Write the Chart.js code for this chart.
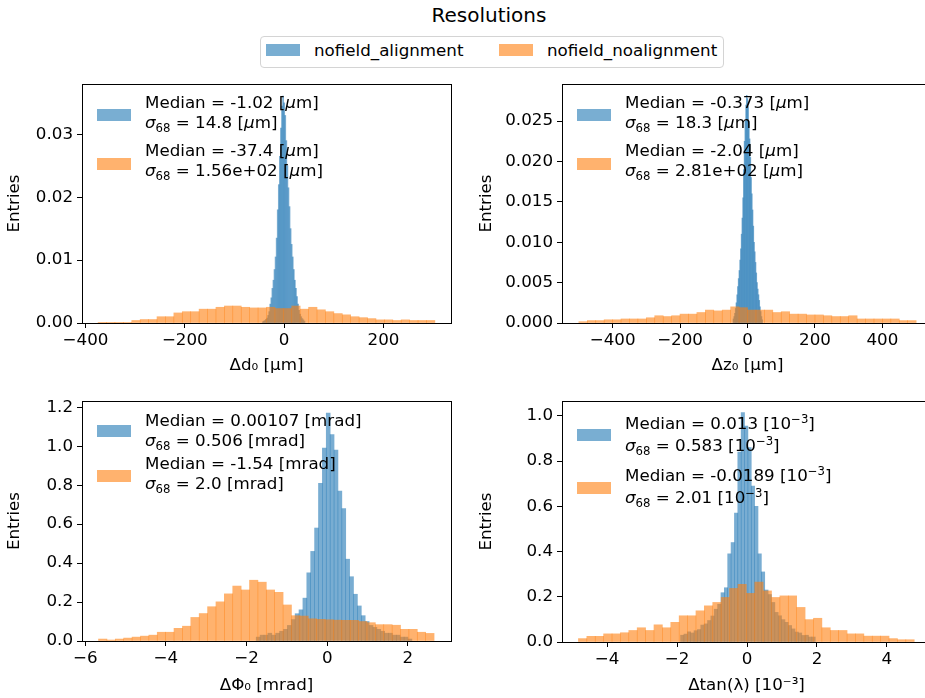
<!DOCTYPE html>
<html>
<head>
<meta charset="utf-8">
<script src="https://cdn.jsdelivr.net/npm/chart.js@4.4.1/dist/chart.umd.min.js"></script>
<style>
html, body { margin: 0; padding: 0; overflow: hidden; background: #fff; }
body { width: 925px; height: 698px; position: relative; font-family: "DejaVu Sans", sans-serif; color: #000; }
canvas { position: absolute; }
.title { position: absolute; left: 389px; width: 200px; top: 3px; text-align: center; font-size: 20px; line-height: 24px; }
.topleg { position: absolute; left: 260px; top: 36px; width: 462px; height: 30px; border: 1px solid #d4d4d4; border-radius: 4px; background: #fff; }
.lg { position: absolute; font-size: 16.7px; line-height: 20px; white-space: nowrap; }
.lg.tall { line-height: 22px; }
.hd { position: absolute; width: 34px; height: 12px; }
.blue { background: #79aed2; }
.orange { background: #ffb26e; }
sub, sup { font-size: 70%; line-height: 0; position: relative; vertical-align: baseline; }
sub { top: 0.3em; }
sup { top: -0.5em; }
</style>
</head>
<body>
<div class="title">Resolutions</div>
<div class="topleg"></div>
<div class="hd blue" style="left:266px;top:44px"></div>
<div class="lg" style="left:314px;top:40px">nofield_alignment</div>
<div class="hd orange" style="left:499px;top:44px"></div>
<div class="lg" style="left:547px;top:40px">nofield_noalignment</div>

<canvas id="cD0" width="460" height="310" style="left:0px;top:70px"></canvas>
<canvas id="cZ0" width="480" height="310" style="left:470px;top:70px"></canvas>
<canvas id="cPhi0" width="460" height="311" style="left:0px;top:387px"></canvas>
<canvas id="cTanl" width="480" height="311" style="left:470px;top:387px"></canvas>

<!-- in-panel legends -->
<div class="hd blue" style="left:97px;top:109px"></div>
<div class="lg" style="left:145px;top:92px">Median = -1.02 [<i>μ</i>m]<br><i>σ</i><sub>68</sub> = 14.8 [<i>μ</i>m]</div>
<div class="hd orange" style="left:97px;top:158px"></div>
<div class="lg" style="left:145px;top:140px">Median = -37.4 [<i>μ</i>m]<br><i>σ</i><sub>68</sub> = 1.56e+02 [<i>μ</i>m]</div>

<div class="hd blue" style="left:577px;top:109px"></div>
<div class="lg" style="left:625px;top:92px">Median = -0.373 [<i>μ</i>m]<br><i>σ</i><sub>68</sub> = 18.3 [<i>μ</i>m]</div>
<div class="hd orange" style="left:577px;top:158px"></div>
<div class="lg" style="left:625px;top:140px">Median = -2.04 [<i>μ</i>m]<br><i>σ</i><sub>68</sub> = 2.81e+02 [<i>μ</i>m]</div>

<div class="hd blue" style="left:97px;top:425px"></div>
<div class="lg" style="left:145px;top:410px">Median = 0.00107 [mrad]<br><i>σ</i><sub>68</sub> = 0.506 [mrad]</div>
<div class="hd orange" style="left:97px;top:470px"></div>
<div class="lg" style="left:145px;top:453px">Median = -1.54 [mrad]<br><i>σ</i><sub>68</sub> = 2.0 [mrad]</div>

<div class="hd blue" style="left:577px;top:429px"></div>
<div class="lg tall" style="left:625px;top:412px">Median = 0.013 [10<sup>−3</sup>]<br><i>σ</i><sub>68</sub> = 0.583 [10<sup>−3</sup>]</div>
<div class="hd orange" style="left:577px;top:482px"></div>
<div class="lg tall" style="left:625px;top:464px">Median = -0.0189 [10<sup>−3</sup>]<br><i>σ</i><sub>68</sub> = 2.01 [10<sup>−3</sup>]</div>

<script>
// histogram contents (density), 40 bins each, bin range = [first edge, last edge]
const d0AlignRange = [-44, 42];
const d0Align = [0.0002, 0.0003, 0.0004, 0.0006, 0.0008, 0.0012, 0.0018, 0.0030, 0.0040, 0.0055,
  0.0068, 0.0085, 0.0105, 0.0135, 0.0180, 0.0220, 0.0265, 0.0310, 0.0345, 0.0361,
  0.0350, 0.0330, 0.0290, 0.0250, 0.0215, 0.0185, 0.0150, 0.0125, 0.0105, 0.0085,
  0.0068, 0.0055, 0.0042, 0.0030, 0.0020, 0.0014, 0.0010, 0.0007, 0.0005, 0.0003];
const d0NoAlignRange = [-374.6, 303.5];
const d0NoAlign = [0.00003, 0.00005, 0.00005, 0.0001, 0.0004, 0.00055, 0.00055, 0.001, 0.001, 0.0016,
  0.0018, 0.0018, 0.0022, 0.0022, 0.0025, 0.0027, 0.0027, 0.0025, 0.0024, 0.0024,
  0.0025, 0.0023, 0.0023, 0.0027, 0.0022, 0.0025, 0.0021, 0.0018, 0.0015, 0.0013,
  0.001, 0.00085, 0.0007, 0.0005, 0.0005, 0.0004, 0.0005, 0.0004, 0.0004, 0.0004];

const z0AlignRange = [-43, 45];
const z0Align = [0.0005, 0.0008, 0.0012, 0.0018, 0.0025, 0.0035, 0.0045, 0.0055, 0.0065, 0.0078,
  0.0092, 0.0110, 0.0130, 0.0155, 0.0190, 0.0225, 0.0250, 0.0270, 0.0282, 0.0278,
  0.0268, 0.0250, 0.0228, 0.0205, 0.0180, 0.0160, 0.0140, 0.0120, 0.0100, 0.0088,
  0.0075, 0.0062, 0.0050, 0.0042, 0.0035, 0.0028, 0.0020, 0.0014, 0.0008, 0.0004];
const z0NoAlignRange = [-500, 500];
const z0NoAlign = [0.00016, 0.0003, 0.0003, 0.0004, 0.0004, 0.0005, 0.0005, 0.0005, 0.00065, 0.0009,
  0.0008, 0.0009, 0.0011, 0.0011, 0.0013, 0.0016, 0.0015, 0.0016, 0.0020, 0.0019,
  0.0016, 0.0016, 0.0016, 0.0013, 0.0014, 0.0011, 0.0011, 0.0010, 0.0010, 0.0009,
  0.0008, 0.0008, 0.0009, 0.0005, 0.0005, 0.0005, 0.0005, 0.0005, 0.0003, 0.0003];

const phi0AlignRange = [-1.76, 2.1];
const phi0Align = [0.02, 0.03, 0.03, 0.04, 0.03, 0.04, 0.05, 0.06, 0.08, 0.11,
  0.14, 0.16, 0.22, 0.35, 0.46, 0.58, 0.81, 0.99, 1.17, 1.06,
  0.98, 0.77, 0.68, 0.42, 0.33, 0.24, 0.18, 0.13, 0.10, 0.08,
  0.07, 0.06, 0.05, 0.04, 0.04, 0.03, 0.03, 0.02, 0.02, 0.01];
const phi0NoAlignRange = [-5.67, 2.65];
const phi0NoAlign = [0.010, 0.005, 0.010, 0.015, 0.020, 0.025, 0.030, 0.045, 0.045, 0.065,
  0.076, 0.121, 0.141, 0.176, 0.201, 0.242, 0.282, 0.262, 0.312, 0.302,
  0.262, 0.250, 0.185, 0.130, 0.128, 0.114, 0.111, 0.109, 0.107, 0.106,
  0.106, 0.100, 0.094, 0.084, 0.084, 0.081, 0.060, 0.060, 0.045, 0.039];

const tanlAlignRange = [-1.9, 1.95];
const tanlAlign = [0.030, 0.035, 0.045, 0.040, 0.050, 0.055, 0.075, 0.080, 0.095, 0.115,
  0.145, 0.167, 0.218, 0.240, 0.390, 0.440, 0.570, 0.840, 1.015, 0.955,
  0.860, 0.690, 0.600, 0.390, 0.310, 0.230, 0.210, 0.175, 0.131, 0.116,
  0.099, 0.087, 0.073, 0.058, 0.044, 0.040, 0.029, 0.030, 0.022, 0.022];
const tanlNoAlignRange = [-4.82, 4.78];
const tanlNoAlign = [0.015, 0.025, 0.025, 0.036, 0.036, 0.041, 0.051, 0.063, 0.051, 0.076,
  0.063, 0.087, 0.116, 0.116, 0.138, 0.160, 0.175, 0.197, 0.237, 0.255,
  0.215, 0.265, 0.226, 0.197, 0.204, 0.204, 0.153, 0.099, 0.105, 0.063,
  0.051, 0.051, 0.036, 0.036, 0.026, 0.026, 0.026, 0.015, 0.010, 0.010];

const seriesNames = ['nofield_alignment', 'nofield_noalignment'];

Chart.defaults.font.family = '"DejaVu Sans", sans-serif';
Chart.defaults.font.size = 16.7;
Chart.defaults.color = '#000';

const BLUE = 'rgba(31,119,180,0.6)';
const ORANGE = 'rgba(255,127,14,0.6)';

// box around the plot area, like matplotlib spines
const frame = {
  id: 'frame',
  afterDraw(chart) {
    const { ctx, chartArea: a } = chart;
    ctx.save();
    ctx.strokeStyle = '#000';
    ctx.lineWidth = 1;
    ctx.strokeRect(Math.round(a.left) + 0.5, Math.round(a.top) + 0.5,
      Math.round(a.right) - Math.round(a.left), Math.round(a.bottom) - Math.round(a.top));
    ctx.restore();
  }
};

function hist(range, vals) {
  const w = (range[1] - range[0]) / vals.length;
  return vals.map((y, i) => ({ x: range[0] + (i + 0.5) * w, y }));
}

const minus = s => s.replace('-', '\u2212');

function panel(id, p) {
  const tickGrid = { display: true, drawOnChartArea: false, drawTicks: true, tickLength: 5, color: '#000' };
  const barOpts = { grouped: false, barPercentage: 1, categoryPercentage: 1, borderWidth: 0 };
  new Chart(document.getElementById(id), {
    type: 'bar',
    data: {
      datasets: [
        Object.assign({ label: seriesNames[0], data: hist(p.blueRange, p.blue), backgroundColor: BLUE,
          xAxisID: 'xb', order: 1 }, barOpts),
        Object.assign({ label: seriesNames[1], data: hist(p.orangeRange, p.orange), backgroundColor: ORANGE,
          xAxisID: 'x', order: 0 }, barOpts)
      ]
    },
    options: {
      responsive: false,
      animation: false,
      layout: { padding: p.pad },
      plugins: { legend: { display: false }, tooltip: { enabled: false } },
      scales: {
        x: {
          type: 'linear', min: p.xmin, max: p.xmax, offset: false,
          grid: Object.assign({ offset: false }, tickGrid),
          border: { display: true, color: '#000' },
          ticks: { stepSize: p.xstep, includeBounds: false, autoSkip: false, maxRotation: 0, padding: 3,
            callback: v => minus(String(v)) },
          title: { display: true, text: p.xtitle, padding: { top: 0, bottom: p.xtpad } },
          afterFit: s => { s.height = p.xh; }
        },
        xb: { type: 'linear', display: false, min: p.xmin, max: p.xmax, offset: false },
        y: {
          min: 0, max: p.ymax,
          grid: tickGrid,
          border: { display: true, color: '#000' },
          ticks: { stepSize: p.ystep, includeBounds: false, padding: 4,
            callback: v => v.toFixed(p.ydec) },
          title: { display: true, text: 'Entries', padding: { top: p.ytpad, bottom: 0 } },
          afterFit: s => { s.width = p.yw; }
        }
      }
    },
    plugins: [frame]
  });
}

panel('cD0', {
  blue: d0Align, blueRange: d0AlignRange, orange: d0NoAlign, orangeRange: d0NoAlignRange,
  xmin: -407, xmax: 336, xstep: 200, ymax: 0.038, ystep: 0.01, ydec: 2,
  xtitle: 'Δd₀ [μm]', pad: { left: 0, top: 10, right: 9, bottom: 0 }, yw: 82, xh: 57, xtpad: 4, ytpad: 5
});
panel('cZ0', {
  blue: z0Align, blueRange: z0AlignRange, orange: z0NoAlign, orangeRange: z0NoAlignRange,
  xmin: -550, xmax: 550, xstep: 200, ymax: 0.0296, ystep: 0.005, ydec: 3,
  xtitle: 'Δz₀ [μm]', pad: { left: 0, top: 10, right: 17, bottom: 0 }, yw: 92, xh: 57, xtpad: 4, ytpad: 7
});
panel('cPhi0', {
  blue: phi0Align, blueRange: phi0AlignRange, orange: phi0NoAlign, orangeRange: phi0NoAlignRange,
  xmin: -6.08, xmax: 3.07, xstep: 2, ymax: 1.232, ystep: 0.2, ydec: 1,
  xtitle: 'ΔΦ₀ [mrad]', pad: { left: 0, top: 10, right: 9, bottom: 0 }, yw: 82, xh: 57, xtpad: 2, ytpad: 5
});
panel('cTanl', {
  blue: tanlAlign, blueRange: tanlAlignRange, orange: tanlNoAlign, orangeRange: tanlNoAlignRange,
  xmin: -5.29, xmax: 5.26, xstep: 2, ymax: 1.066, ystep: 0.2, ydec: 1,
  xtitle: 'Δtan(λ) [10⁻³]', pad: { left: 0, top: 10, right: 19, bottom: 0 }, yw: 92, xh: 56, xtpad: 2, ytpad: 7
});
</script>
</body>
</html>
